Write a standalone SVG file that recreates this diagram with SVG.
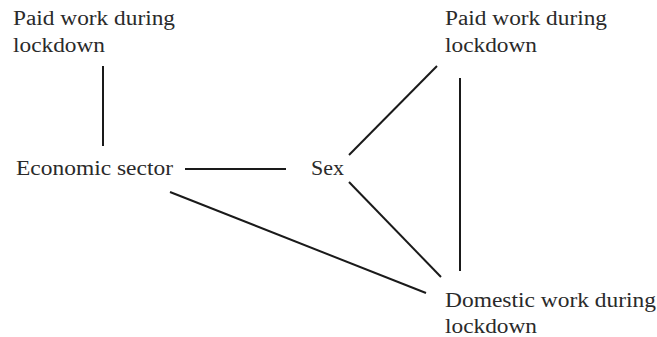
<svg xmlns="http://www.w3.org/2000/svg" width="657" height="337" viewBox="0 0 657 337">
<style>
text { font-family: "Liberation Serif", "DejaVu Serif", serif; font-size: 20px; fill: #2a2a2a; }
.edge { stroke: #1a1a1a; stroke-width: 2; fill: none; }
</style>
<rect width="657" height="337" fill="#ffffff"/>
<g id="connectors">
<line class="edge" x1="103" y1="66" x2="103" y2="146"/>
<line class="edge" x1="185" y1="169" x2="286" y2="169"/>
<line class="edge" x1="349" y1="155" x2="437" y2="66"/>
<line class="edge" x1="460" y1="78" x2="460" y2="271"/>
<line class="edge" x1="349" y1="182" x2="441" y2="277"/>
<line class="edge" x1="170" y1="192" x2="426" y2="293"/>
</g>
<g id="node-paid-left">
<text x="13" y="25" textLength="162" lengthAdjust="spacingAndGlyphs">Paid work during</text>
<text x="13" y="52" textLength="92" lengthAdjust="spacingAndGlyphs">lockdown</text>
</g>
<g id="node-econ">
<text x="16" y="175" textLength="157" lengthAdjust="spacingAndGlyphs">Economic sector</text>
</g>
<g id="node-sex">
<text x="311" y="175" textLength="33" lengthAdjust="spacingAndGlyphs">Sex</text>
</g>
<g id="node-paid-right">
<text x="445" y="25" textLength="162" lengthAdjust="spacingAndGlyphs">Paid work during</text>
<text x="445" y="52" textLength="92" lengthAdjust="spacingAndGlyphs">lockdown</text>
</g>
<g id="node-domestic">
<text x="445" y="307" textLength="211" lengthAdjust="spacingAndGlyphs">Domestic work during</text>
<text x="445" y="333" textLength="92" lengthAdjust="spacingAndGlyphs">lockdown</text>
</g>
</svg>
